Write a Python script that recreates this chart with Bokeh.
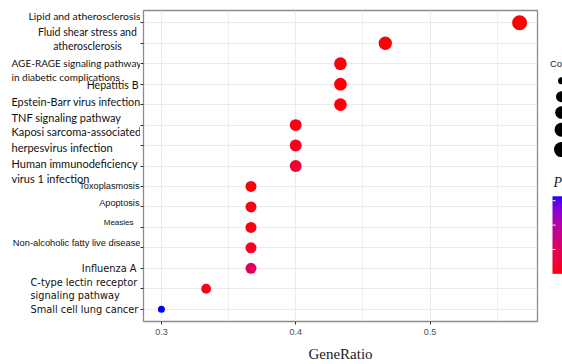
import math
import numpy as np
from bokeh.plotting import figure
from bokeh.layouts import row
from bokeh.models import Range1d, FixedTicker, LinearColorMapper, ColumnDataSource
from bokeh.core.properties import value
from bokeh.embed import file_html
from bokeh.resources import INLINE

# ---------------- data ----------------
pathway_labels = [
    "Lipid and atherosclerosis",
    "Fluid shear stress and\natherosclerosis",
    "AGE-RAGE signaling pathway\nin diabetic complications",
    "Hepatitis B",
    "Epstein-Barr virus infection",
    "TNF signaling pathway",
    "Kaposi sarcoma-associated\nherpesvirus infection",
    "Human immunodeficiency\nvirus 1 infection",
    "Toxoplasmosis",
    "Apoptosis",
    "Measles",
    "Non-alcoholic fatty live disease",
    "Influenza A",
    "C-type lectin receptor\nsignaling pathway",
    "Small cell lung cancer",
]
gene_ratio = [0.5667, 0.4667, 0.4333, 0.4333, 0.4333, 0.4000, 0.4000, 0.4000,
              0.3667, 0.3667, 0.3667, 0.3667, 0.3667, 0.3333, 0.3000]
counts = [17, 14, 13, 13, 13, 12, 12, 12, 11, 11, 11, 11, 11, 10, 9]
p_adjust = [0.00005, 0.0004, 0.0005, 0.0006, 0.0006, 0.0008, 0.0020, 0.0040,
            0.0005, 0.0008, 0.0009, 0.0024, 0.0095, 0.0016, 0.0318]
x_ticks = [0.3, 0.4, 0.5]
x_minor_ticks = [0.35, 0.45, 0.55]
count_breaks = [9, 11, 13, 15, 17]
p_ticks = [0.01, 0.02, 0.03]

# ---------------- helpers ----------------
def srgb_to_lab(rgb):
    def lin(c):
        c = c / 255.0
        return c / 12.92 if c <= 0.04045 else ((c + 0.055) / 1.055) ** 2.4
    r, g, b = [lin(c) for c in rgb]
    X = 0.4124 * r + 0.3576 * g + 0.1805 * b
    Y = 0.2126 * r + 0.7152 * g + 0.0722 * b
    Z = 0.0193 * r + 0.1192 * g + 0.9505 * b
    def f(t):
        return t ** (1 / 3) if t > 216 / 24389 else (24389 / 27 * t + 16) / 116
    fx, fy, fz = f(X / 0.95047), f(Y / 1.0), f(Z / 1.08883)
    return (116 * fy - 16, 500 * (fx - fy), 200 * (fy - fz))

def lab_to_hex(L, a, b):
    fy = (L + 16) / 116
    fx = fy + a / 500
    fz = fy - b / 200
    def finv(t):
        return t ** 3 if t ** 3 > 216 / 24389 else (116 * t - 16) / (24389 / 27)
    X, Y, Z = 0.95047 * finv(fx), finv(fy), 1.08883 * finv(fz)
    r = 3.2406 * X - 1.5372 * Y - 0.4986 * Z
    g = -0.9689 * X + 1.8758 * Y + 0.0415 * Z
    bb = 0.0557 * X - 0.2040 * Y + 1.0570 * Z
    def gam(c):
        c = min(max(c, 0.0), 1.0)
        return 12.92 * c if c <= 0.0031308 else 1.055 * c ** (1 / 2.4) - 0.055
    return "#%02x%02x%02x" % tuple(int(round(gam(c) * 255)) for c in (r, g, bb))

lab_lo = srgb_to_lab((255, 0, 0))
lab_hi = srgb_to_lab((0, 0, 255))
palette = [lab_to_hex(*[lab_lo[k] + (lab_hi[k] - lab_lo[k]) * i / 255 for k in range(3)])
           for i in range(256)]

p_lo, p_hi = min(p_adjust), max(p_adjust)
mapper = LinearColorMapper(palette=palette, low=p_lo, high=p_hi)

c_lo, c_hi = min(counts), max(counts)
def dot_size(c):
    return 7 + 8 * math.sqrt((c - c_lo) / (c_hi - c_lo))

n = len(pathway_labels)
ypos = [n - i for i in range(n)]

H = 364
TOP, BOTTOM = 10, 41

# ---------------- main panel ----------------
r_lo, r_hi = min(gene_ratio), max(gene_ratio)
pad = 0.05 * (r_hi - r_lo)
y_range = Range1d(0.4, n + 0.6)

main = figure(width=399, height=H, x_range=Range1d(r_lo - pad, r_hi + pad), y_range=y_range,
              output_backend="svg", toolbar_location=None,
              min_border_left=3, min_border_right=2, min_border_top=TOP, min_border_bottom=BOTTOM)
main.outline_line_color = "#8c8c8c"
main.outline_line_width = 1.3

main.xaxis.ticker = FixedTicker(ticks=x_ticks, minor_ticks=x_minor_ticks)
main.xaxis.axis_line_color = None
main.xaxis.major_tick_out = 3
main.xaxis.major_tick_in = 0
main.xaxis.major_tick_line_color = "#333333"
main.xaxis.minor_tick_line_color = None
main.xaxis.major_label_text_font = "Liberation Sans"
main.xaxis.major_label_text_font_size = "9px"
main.xaxis.major_label_text_color = "#4d4d4d"
main.xaxis.major_label_standoff = 3
main.xaxis.axis_label = "GeneRatio"
main.xaxis.axis_label_text_font = "Liberation Serif"
main.xaxis.axis_label_text_font_style = "normal"
main.xaxis.axis_label_text_font_size = "15px"
main.xaxis.axis_label_text_color = "#1a1a1a"
main.xaxis.axis_label_standoff = 8

main.yaxis.ticker = FixedTicker(ticks=ypos, minor_ticks=[])
main.yaxis.major_label_overrides = {v: "" for v in ypos}
main.yaxis.axis_line_color = None
main.yaxis.major_tick_out = 3
main.yaxis.major_tick_in = 0
main.yaxis.major_tick_line_color = "#333333"
main.yaxis.minor_tick_line_color = None
main.yaxis.major_label_standoff = 0

main.xgrid.grid_line_color = "#ebebeb"
main.xgrid.grid_line_width = 1
main.xgrid.minor_grid_line_color = "#ebebeb"
main.xgrid.minor_grid_line_width = 0.8
main.ygrid.grid_line_color = "#ebebeb"
main.ygrid.grid_line_width = 1

src = ColumnDataSource(dict(x=gene_ratio, y=ypos, p=p_adjust,
                            s=[dot_size(c) for c in counts]))
main.scatter(x="x", y="y", size="s", source=src,
             fill_color={"field": "p", "transform": mapper}, line_color=None)

# ---------------- category labels ----------------
labfig = figure(width=140, height=H, x_range=Range1d(0, 140), y_range=y_range,
                output_backend="svg", toolbar_location=None,
                min_border_left=0, min_border_right=0, min_border_top=TOP, min_border_bottom=BOTTOM,
                x_axis_location=None, y_axis_location=None)
labfig.outline_line_color = None
labfig.grid.visible = False

CAL, NAR, GOT = "Lato", "Liberation Sans", "DejaVu Sans"
# (x, align, y_offset px, font, size)
label_style = [
    (140, "right", -7, CAL, "10.4px"),
    (87, "center", -4.5, CAL, "10.5px"),
    (11, "left", 6.4, CAL, "10px"),
    (138, "right", 1.3, CAL, "10.6px"),
    (11, "left", -3.3, CAL, "10.8px"),
    (11, "left", -7.9, CAL, "11px"),
    (11, "left", -5.9, CAL, "11px"),
    (11, "left", 5, CAL, "11px"),
    (139, "right", 0, NAR, "9.2px"),
    (139, "right", -4, NAR, "9.2px"),
    (133, "right", -4.7, NAR, "8px"),
    (140, "right", -5.3, NAR, "9.3px"),
    (136, "right", 0, GOT, "9.8px"),
    (30, "left", 0.6, GOT, "9.8px"),
    (30, "left", 0, GOT, "9.8px"),
]
for i, (lx, al, off, font, fs) in enumerate(label_style):
    labfig.text(x=[lx], y=[ypos[i]], text=[pathway_labels[i]], text_align=al,
                text_baseline="middle", y_offset=off, text_font=value(font),
                text_font_size=value(fs), text_color="#111111", text_line_height=1.2)

# ---------------- legend (cropped at right edge) ----------------
leg = figure(width=23, height=H, x_range=Range1d(0, 23), y_range=Range1d(BOTTOM, H - TOP),
             output_backend="svg", toolbar_location=None,
             min_border_left=0, min_border_right=0, min_border_top=TOP, min_border_bottom=BOTTOM,
             x_axis_location=None, y_axis_location=None)
leg.outline_line_color = None
leg.grid.visible = False

def LX(px):
    return px - 539
def LY(py):
    return H - py

leg.text(x=[LX(549.5)], y=[LY(63)], text=["Co"], text_align="left", text_baseline="middle",
         text_font=value("Liberation Sans"), text_font_size=value("9.5px"), text_color="#1a1a1a")
key_y = [80.7, 96.7, 112.7, 130, 150]
leg.scatter(x=[LX(561)] * len(count_breaks), y=[LY(v) for v in key_y],
            size=[dot_size(c) for c in count_breaks], fill_color="black", line_color=None)

leg.text(x=[LX(553)], y=[LY(183)], text=["P"], text_align="left", text_baseline="middle",
         text_font=value("Liberation Serif"), text_font_style="italic",
         text_font_size=value("14px"), text_color="#1a1a1a")
bar_bottom, bar_h = LY(275), 78
grad = np.linspace(p_lo, p_hi, 200).reshape(200, 1)
leg.image(image=[grad], x=LX(552), y=bar_bottom, dw=14, dh=bar_h, color_mapper=mapper)
tick_y = [bar_bottom + (v - p_lo) / (p_hi - p_lo) * bar_h for v in p_ticks]
leg.segment(x0=[LX(552)] * len(p_ticks), x1=[LX(555)] * len(p_ticks), y0=tick_y, y1=tick_y,
            line_color="white", line_width=1)

layout = row(labfig, main, leg, spacing=0)
open("out.html", "w").write(file_html(layout, INLINE))
